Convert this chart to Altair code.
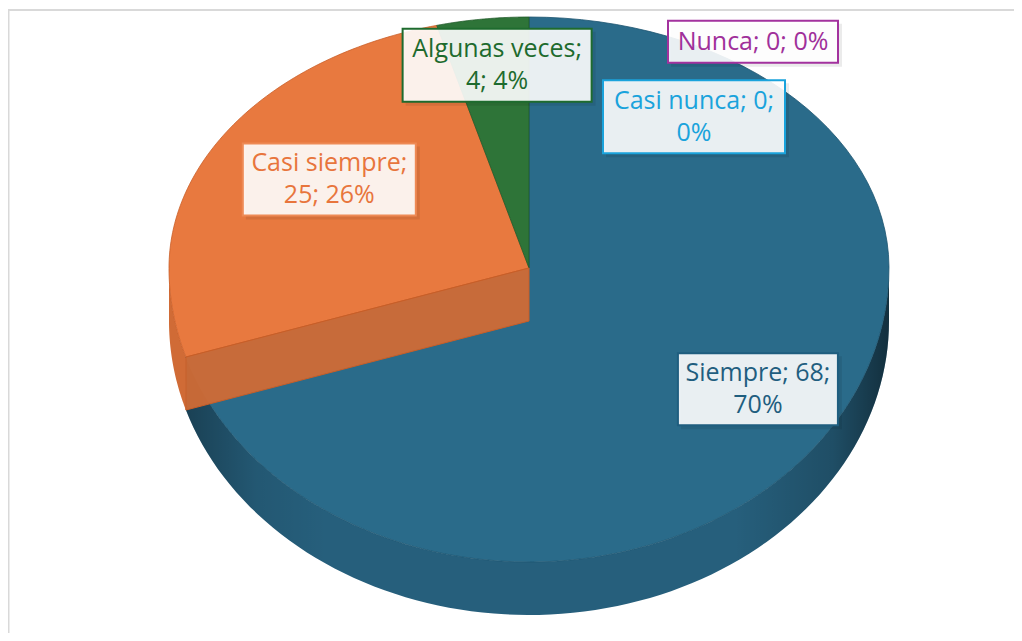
import altair as alt
import pandas as pd

# ---------------- data ----------------
categories = ["Siempre", "Casi siempre", "Algunas veces", "Casi nunca", "Nunca"]
values = [68, 25, 4, 0, 0]

# ---------------- styles ----------------
top_colors = ["#2A6B8A", "#E8793F", "#2E7438", "#1BA1DB", "#A3329E"]
side_colors = ["#265F7C", "#D06B36", "#245E2D", "#1788B8", "#862A82"]
edge_colors = ["#1D5571", "#C95E27", "#225A2A", "#1788B8", "#862A82"]
text_colors = ["#1F5E7F", "#E8753C", "#1E6B2E", "#1AA3DC", "#A0309A"]
box_strokes = ["#1F5E7F", "#EE8A55", "#1E6B2E", "#1AA3DC", "#A3329E"]
label_breaks = [2, 1, 1, 2, 0]           # Excel wraps after this many "; " parts
label_offsets = [(11, -9), (37, 2), (3, -16), (165, 37), (224, -38)]  # px from anchor
box_sizes = [(160, 72), (173, 72), (189, 73), (182, 73), (170, 42)]

CX, CY = 521, 260                 # pie centre (chart px)
RX, RY_TOP, RY_BOT, DEPTH = 360, 251, 294, 53
N = 90                            # arc resolution
W, H = 1006, 625
LINE_H = 32

# ---------------- tables ----------------
total = sum(values)
rows = []
cum = 0
for i, (c, v) in enumerate(zip(categories, values)):
    f0 = cum / total
    cum += v
    f1 = cum / total
    pct = f"{round(100 * v / total)}%"
    parts = [c, str(v), pct]
    b = label_breaks[i]
    if b:
        lines = ["; ".join(parts[:b]) + ";", "; ".join(parts[b:])]
    else:
        lines = ["; ".join(parts)]
    rows.append(dict(
        cat=c, value=v, f0=f0, f1=f1,
        top=top_colors[i], side=side_colors[i], edge=edge_colors[i],
        tcol=text_colors[i], bcol=box_strokes[i],
        ox=label_offsets[i][0], oy=label_offsets[i][1],
        bw=box_sizes[i][0], bh=box_sizes[i][1],
        lines=lines,
    ))
slices = pd.DataFrame(rows)
geo = slices.drop(columns=["lines"])
top_df = geo.merge(pd.DataFrame({"k": list(range(N + 2))}), how="cross")
side_df = geo.merge(pd.DataFrame({"k": list(range(2 * N + 2))}), how="cross")
cut_df = geo.merge(pd.DataFrame({"k": list(range(4))}), how="cross")

X = alt.X("px:Q", scale=None)
Y = alt.Y("py:Q", scale=None)

# ---------------- frame ----------------
frame_left = alt.Chart(pd.DataFrame({"d": [0]})).mark_rule(color="#D9D9D9", strokeWidth=2).encode(
    x=alt.value(0.5), y=alt.value(2), y2=alt.value(H))
frame_top = alt.Chart(pd.DataFrame({"d": [0]})).mark_rule(color="#D9D9D9", strokeWidth=2).encode(
    x=alt.value(0), x2=alt.value(W), y=alt.value(2))

# ---------------- side (front rim) ----------------
side_base = (
    alt.Chart(side_df)
    .transform_filter("datum.value > 0")
    .transform_calculate(a0="max(2*PI*datum.f0, PI/2)")
    .transform_calculate(a1="min(2*PI*datum.f1, 3*PI/2)")
    .transform_filter("datum.a1 > datum.a0")
    .transform_calculate(t=f"datum.k <= {N} ? datum.k/{N} : ({2*N+1} - datum.k)/{N}")
    .transform_calculate(a="datum.a0 + (datum.a1 - datum.a0)*datum.t")
    .transform_calculate(px=f"{CX} + {RX}*sin(datum.a)")
    .transform_calculate(py=f"{CY} - {RY_BOT}*cos(datum.a) + (datum.k > {N} ? {DEPTH} : 0)")
)
side = side_base.mark_line(filled=True, interpolate="linear-closed", strokeWidth=0).encode(
    x=X, y=Y, order=alt.Order("k:Q"), detail="cat:N",
    fill=alt.Fill("side:N", scale=None),
)
shade = alt.LinearGradient(
    gradient="linear", x1=0, x2=1, y1=0, y2=0,
    stops=[
        alt.GradientStop(color="rgba(0,0,0,0.32)", offset=0),
        alt.GradientStop(color="rgba(0,0,0,0.08)", offset=0.1),
        alt.GradientStop(color="rgba(0,0,0,0)", offset=0.2),
        alt.GradientStop(color="rgba(0,0,0,0)", offset=0.78),
        alt.GradientStop(color="rgba(0,0,0,0.18)", offset=0.92),
        alt.GradientStop(color="rgba(0,0,0,0.5)", offset=1),
    ],
)
side_shade = (
    side_base.transform_filter("datum.a1 - datum.a0 > PI/2")
    .mark_line(filled=True, fill=shade, interpolate="linear-closed", strokeWidth=0)
    .encode(x=X, y=Y, order=alt.Order("k:Q"), detail="cat:N")
)

# ---------------- top faces ----------------
top = (
    alt.Chart(top_df)
    .transform_filter("datum.value > 0")
    .transform_calculate(a=f"2*PI*(datum.f0 + (datum.f1 - datum.f0)*max(datum.k - 1, 0)/{N})")
    .transform_calculate(px=f"datum.k == 0 ? {CX} : {CX} + {RX}*sin(datum.a)")
    .transform_calculate(
        py=f"datum.k == 0 ? {CY} : {CY} - (cos(datum.a) > 0 ? {RY_TOP} : {RY_BOT})*cos(datum.a)")
    .mark_line(filled=True, interpolate="linear-closed", strokeWidth=1, strokeOpacity=0.8)
    .encode(
        x=X, y=Y, order=alt.Order("k:Q"), detail="cat:N",
        fill=alt.Fill("top:N", scale=None),
        stroke=alt.Stroke("edge:N", scale=None),
    )
)

# ---------------- visible cut face ----------------
cut = (
    alt.Chart(cut_df)
    .transform_calculate(a0="2*PI*datum.f0")
    .transform_filter("datum.value > 0 && datum.a0 > PI && datum.a0 < 1.5*PI")
    .transform_calculate(
        px=f"(datum.k == 0 || datum.k == 3) ? {CX} : {CX} + {RX}*sin(datum.a0)")
    .transform_calculate(
        py=f"((datum.k == 0 || datum.k == 3) ? {CY} : {CY} - {RY_BOT}*cos(datum.a0))"
           f" + (datum.k >= 2 ? {DEPTH} : 0)")
    .mark_line(filled=True, interpolate="linear-closed", strokeWidth=1, fillOpacity=0.95)
    .encode(
        x=X, y=Y, order=alt.Order("k:Q"), detail="cat:N",
        fill=alt.Fill("side:N", scale=None),
        stroke=alt.Stroke("edge:N", scale=None),
    )
)

# ---------------- labels ----------------
lab_base = (
    alt.Chart(slices)
    .transform_calculate(am="PI*(datum.f0 + datum.f1)")
    .transform_calculate(
        lx=f"{CX} + 0.75*{RX}*sin(datum.am) + datum.ox")
    .transform_calculate(
        ly=f"{CY} - 0.75*(cos(datum.am) > 0 ? {RY_TOP} : {RY_BOT})*cos(datum.am) + datum.oy")
    .transform_calculate(bx1="datum.lx - datum.bw/2", bx2="datum.lx + datum.bw/2")
    .transform_calculate(by1="datum.ly - datum.bh/2", by2="datum.ly + datum.bh/2")
    .transform_calculate(ty=f"datum.ly - (length(datum.lines) - 1)*{LINE_H}/2")
)
shadow = lab_base.mark_rect(fill="#000000", opacity=0.08).transform_calculate(
    sx1="datum.bx1 + 3", sx2="datum.bx2 + 4", sy1="datum.by1 + 3", sy2="datum.by2 + 4"
).encode(
    x=alt.X("sx1:Q", scale=None), x2="sx2:Q",
    y=alt.Y("sy1:Q", scale=None), y2="sy2:Q",
)
boxes = lab_base.mark_rect(fill="#FFFFFF", fillOpacity=0.9, strokeWidth=2).encode(
    x=alt.X("bx1:Q", scale=None), x2="bx2:Q",
    y=alt.Y("by1:Q", scale=None), y2="by2:Q",
    stroke=alt.Stroke("bcol:N", scale=None),
)
texts = lab_base.mark_text(
    font="Open Sans", fontSize=25, lineHeight=LINE_H, align="center", baseline="middle"
).encode(
    x=alt.X("lx:Q", scale=None), y=alt.Y("ty:Q", scale=None),
    text="lines", color=alt.Color("tcol:N", scale=None),
)

chart = (
    alt.layer(frame_left, frame_top, side, side_shade, top, cut, shadow, boxes, texts)
    .properties(width=W, height=H, autosize=alt.AutoSizeParams(type="none"), padding=0,
                background="#FFFFFF")
    .configure_view(strokeWidth=0)
)

chart.save("out.html", embed_options={"renderer": "svg", "actions": False})
